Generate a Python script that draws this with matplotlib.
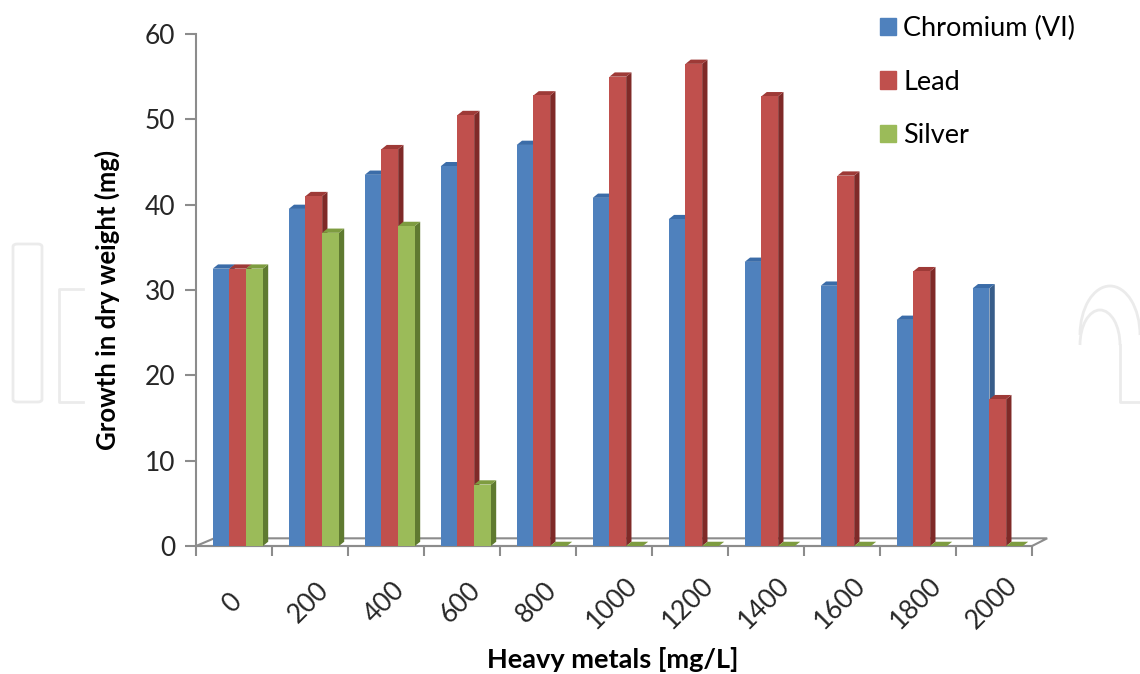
import matplotlib
matplotlib.use("Agg")
import matplotlib.pyplot as plt
from matplotlib.patches import Polygon, Patch, FancyBboxPatch, Arc
from matplotlib.lines import Line2D
from matplotlib.transforms import blended_transform_factory

plt.rcParams['font.family'] = ['Lato', 'DejaVu Sans']

concentrations = ['0', '200', '400', '600', '800', '1000', '1200', '1400', '1600', '1800', '2000']
chromium = [32.5, 39.5, 43.5, 44.5, 47.0, 40.8, 38.3, 33.3, 30.5, 26.5, 30.2]
lead = [32.5, 41.0, 46.5, 50.5, 52.8, 55.0, 56.5, 52.7, 43.4, 32.2, 17.2]
silver = [32.5, 36.7, 37.5, 7.2, 0, 0, 0, 0, 0, 0, 0]

series = [
    ("Chromium (VI)", chromium, "#4F81BD", "#385D8A", "#3B6CA8"),
    ("Lead", lead, "#C0504D", "#7F2A28", "#9E3A37"),
    ("Silver", silver, "#9BBB59", "#5F7A30", "#7E9C40"),
]

W, H = 1140, 674
fig = plt.figure(figsize=(W / 100, H / 100), dpi=100)
ax = fig.add_axes([196 / W, 1 - 546 / H, (1032 - 196) / W, (546 - 34) / H])


def px(x, y):
    return x / W, 1 - y / H


# faint watermark in the background (pixel coords)
wm = "#ebebeb"
fig.patches.append(FancyBboxPatch(px(13, 402), 29 / W, 158 / H,
                                  boxstyle="round,pad=0,rounding_size=0.004",
                                  transform=fig.transFigure, fill=False, ec=wm, lw=2, zorder=0))
for xs_, ys_ in [([83, 59, 59, 83], [289, 289, 402, 402]),
                 ([1120, 1120, 1140], [345, 402, 402])]:
    fig.lines.append(Line2D([x / W for x in xs_], [1 - y / H for y in ys_],
                            transform=fig.transFigure, color=wm, lw=2, zorder=0))
fig.patches.append(Arc(px(1110, 335), 60 / W, 98 / H, theta1=0, theta2=180,
                       transform=fig.transFigure, ec=wm, lw=2, zorder=0))
fig.patches.append(Arc(px(1100, 345), 40 / W, 70 / H, theta1=0, theta2=180,
                       transform=fig.transFigure, ec=wm, lw=2, zorder=0))

n = len(concentrations)
width = 0.22
offsets = [-0.17, 0.05, 0.27]
ddx, ddy = 0.07, 0.5
axis_gray = "#8c8c8c"

# floor
floor = Polygon([(-0.5, 0), (n - 0.5, 0), (n - 0.5 + 0.2, 0.9), (-0.5 + 0.24, 0.9)],
                closed=True, fill=False, ec=axis_gray, lw=1.5, clip_on=False, zorder=1)
ax.add_patch(floor)

for k, (label, vals, front, side, top) in enumerate(series):
    xs = [i + offsets[k] for i in range(n)]
    ax.bar(xs, vals, width=width, color=front, edgecolor='none', zorder=3 + k * 0.01,
           label=label, clip_on=False)
    for x, v in zip(xs, vals):
        x0, x1 = x - width / 2, x + width / 2
        ax.add_patch(Polygon([(x1, 0), (x1 + ddx, ddy), (x1 + ddx, v + ddy), (x1, v)],
                             closed=True, fc=side, ec='none', zorder=2.9 + k * 0.01, clip_on=False))
        ax.add_patch(Polygon([(x0, v), (x1, v), (x1 + ddx, v + ddy), (x0 + ddx, v + ddy)],
                             closed=True, fc=top, ec='none', zorder=2.9 + k * 0.01, clip_on=False))

ax.set_xlim(-0.5, n - 0.5)
ax.set_ylim(0, 60)
ax.set_yticks(range(0, 61, 10))
ax.set_xticks([i - 0.5 for i in range(n + 1)])
ax.set_xticklabels([])
for s in ['top', 'right']:
    ax.spines[s].set_visible(False)
for s in ['left', 'bottom']:
    ax.spines[s].set_color(axis_gray)
    ax.spines[s].set_linewidth(1.5)
ax.tick_params(axis='y', direction='out', length=8, width=1.5, color=axis_gray,
               labelsize=19, labelcolor='#262626', pad=7)
ax.tick_params(axis='x', direction='out', length=7, width=1.5, color=axis_gray)
ax.patch.set_visible(False)

trans = blended_transform_factory(ax.transData, ax.transAxes)
for i, lab in enumerate(concentrations):
    ax.text(i - 0.02, -0.111, lab, transform=trans, rotation=45, ha='center', va='center',
            fontsize=19, color='#262626')

fig.text(*px(107, 300), "Growth in dry weight (mg)", rotation=90, ha='center', va='center',
         fontsize=18.5, fontweight='bold')
fig.text(*px(613, 660), "Heavy metals [mg/L]", ha='center', va='center',
         fontsize=19.5, fontweight='bold')

handles = [Patch(color=s[2], label=s[0]) for s in series]
fig.legend(handles=handles, loc='upper left', bbox_to_anchor=px(880, 16),
           frameon=False, fontsize=19.5, handlelength=0.6, handleheight=0.6,
           handletextpad=0.25, labelspacing=1.05, borderpad=0, borderaxespad=0)

fig.savefig("out.png", dpi=100)
